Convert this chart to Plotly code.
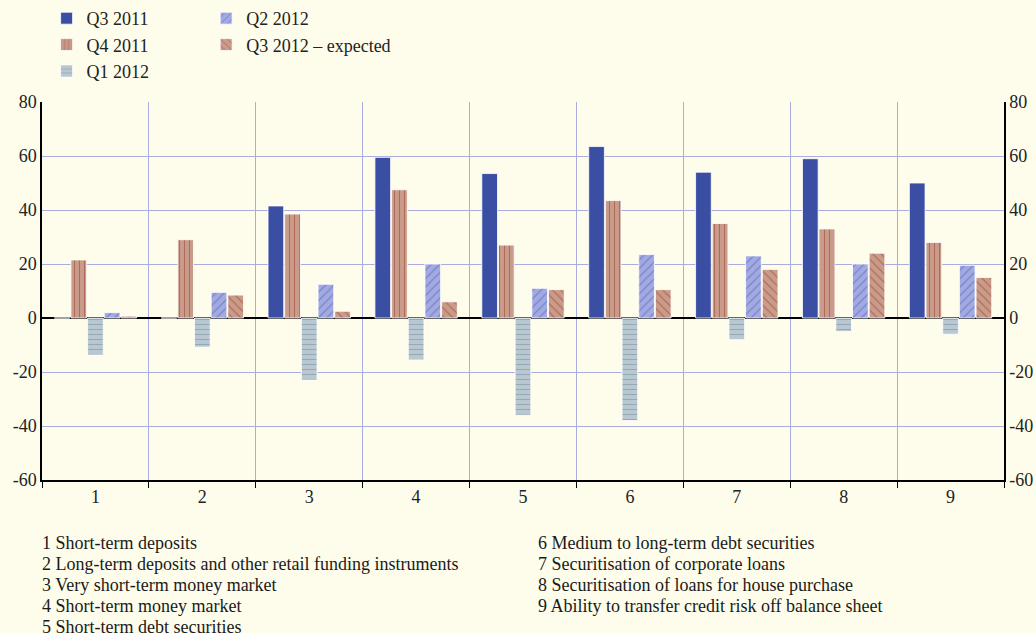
import plotly.graph_objects as go

categories = ["1", "2", "3", "4", "5", "6", "7", "8", "9"]
series_names = ["Q3 2011", "Q4 2011", "Q1 2012", "Q2 2012", "Q3 2012 – expected"]
q3_2011 = [0, 0, 41.5, 59.5, 53.5, 63.5, 54, 59, 50]
q4_2011 = [21.5, 29, 38.5, 47.5, 27, 43.5, 35, 33, 28]
q1_2012 = [-13.7, -10.8, -23, -15.5, -36, -38, -8, -5, -6]
q2_2012 = [2, 9.5, 12.5, 20, 11, 23.5, 23, 20, 19.5]
q3_2012e = [0.7, 8.5, 2.5, 6, 10.5, 10.5, 18, 24, 15]

y_ticks = [80, 60, 40, 20, 0, -20, -40, -60]
y_tick_labels = ["80", "60", "40", "20", "0", "-20", "-40", "-60"]
descriptions_left = [
    "1 Short-term deposits",
    "2 Long-term deposits and other retail funding instruments",
    "3 Very short-term money market",
    "4 Short-term money market",
    "5 Short-term debt securities",
]
descriptions_right = [
    "6 Medium to long-term debt securities",
    "7 Securitisation of corporate loans",
    "8 Securitisation of loans for house purchase",
    "9 Ability to transfer credit risk off balance sheet",
]

FONT = "Liberation Serif"
FS = 18
BG = "#FEFDEB"
GRID = "#A9ACDC"

styles = [
    dict(color="#3A4FA3", pattern=None, legend="legend", rank=1),
    dict(color="#C89A88", pattern=dict(shape="|", fgcolor="#9C3A2C", bgcolor="#C99C8A", size=5, solidity=0.22), legend="legend", rank=2),
    dict(color="#B8C7CF", pattern=dict(shape="-", fgcolor="#6B8B99", bgcolor="#B9C8D0", size=5, solidity=0.2), legend="legend", rank=3),
    dict(color="#A2A9E0", pattern=dict(shape="/", fgcolor="#4B5CC0", bgcolor="#A3AAE0", size=6, solidity=0.2), legend="legend2", rank=4),
    dict(color="#C89A88", pattern=dict(shape="\\", fgcolor="#9C3A2C", bgcolor="#C99C8A", size=6, solidity=0.2), legend="legend2", rank=5),
]
values = [q3_2011, q4_2011, q1_2012, q2_2012, q3_2012e]

fig = go.Figure()
for name, vals, st in zip(series_names, values, styles):
    marker = dict(color=st["color"], line=dict(color="white", width=0.8))
    if st["pattern"] is not None:
        marker["pattern"] = st["pattern"]
    fig.add_trace(go.Bar(
        x=categories, y=vals, name=name, marker=marker,
        legend=st["legend"], legendrank=st["rank"],
    ))

# invisible trace for right axis
fig.add_trace(go.Scatter(x=categories, y=[None] * len(categories), yaxis="y2",
                         showlegend=False, hoverinfo="skip", mode="markers"))

axis_font = dict(family=FONT, size=FS, color="#222222")

fig.update_layout(
    width=1036, height=633,
    paper_bgcolor=BG, plot_bgcolor=BG,
    margin=dict(l=42, r=32, t=102, b=153, autoexpand=False),
    barmode="group", bargap=0.22, bargroupgap=0.06,
    font=dict(family=FONT, size=FS, color="#222222"),
    xaxis=dict(
        type="category", tickson="boundaries", ticks="outside", ticklen=6,
        tickcolor="black", showgrid=True, gridcolor=GRID, gridwidth=1,
        showline=True, linecolor="black", linewidth=1.5,
        tickfont=axis_font, mirror=False, automargin=False,
    ),
    yaxis=dict(
        range=[-60, 80], tickvals=y_ticks, ticktext=y_tick_labels,
        showgrid=True, gridcolor=GRID,
        gridwidth=1, zeroline=True, zerolinecolor="black", zerolinewidth=2,
        showline=True, linecolor="black", linewidth=1.5, ticks="",
        tickfont=axis_font, automargin=False,
    ),
    yaxis2=dict(
        range=[-60, 80], tickvals=y_ticks, ticktext=y_tick_labels,
        overlaying="y", side="right",
        showgrid=False, zeroline=False, showline=True, linecolor="black",
        linewidth=1.5, ticks="", tickfont=axis_font, automargin=False,
    ),
    legend=dict(
        xref="container", yref="container", x=0.045, y=1.003,
        xanchor="left", yanchor="top", bgcolor="rgba(0,0,0,0)",
        font=dict(family=FONT, size=FS, color="#222222"),
        tracegroupgap=0, itemwidth=30,
    ),
    legend2=dict(
        xref="container", yref="container", x=0.199, y=1.003,
        xanchor="left", yanchor="top", bgcolor="rgba(0,0,0,0)",
        font=dict(family=FONT, size=FS, color="#222222"),
        tracegroupgap=0, itemwidth=30,
    ),
)

line_gap = 21
for i, t in enumerate(descriptions_left):
    fig.add_annotation(xref="paper", yref="paper", x=-0.002, y=-0.166 - i * line_gap / 378,
                       text=t, showarrow=False, xanchor="left", yanchor="middle",
                       font=dict(family=FONT, size=FS, color="#1a1a1a"))
for i, t in enumerate(descriptions_right):
    fig.add_annotation(xref="paper", yref="paper", x=0.513, y=-0.166 - i * line_gap / 378,
                       text=t, showarrow=False, xanchor="left", yanchor="middle",
                       font=dict(family=FONT, size=FS, color="#1a1a1a"))

fig.write_html(
    "out.html",
    config={"displayModeBar": False},
    post_script="document.body.style.margin='0';document.body.style.background='#FEFDEB';",
)
